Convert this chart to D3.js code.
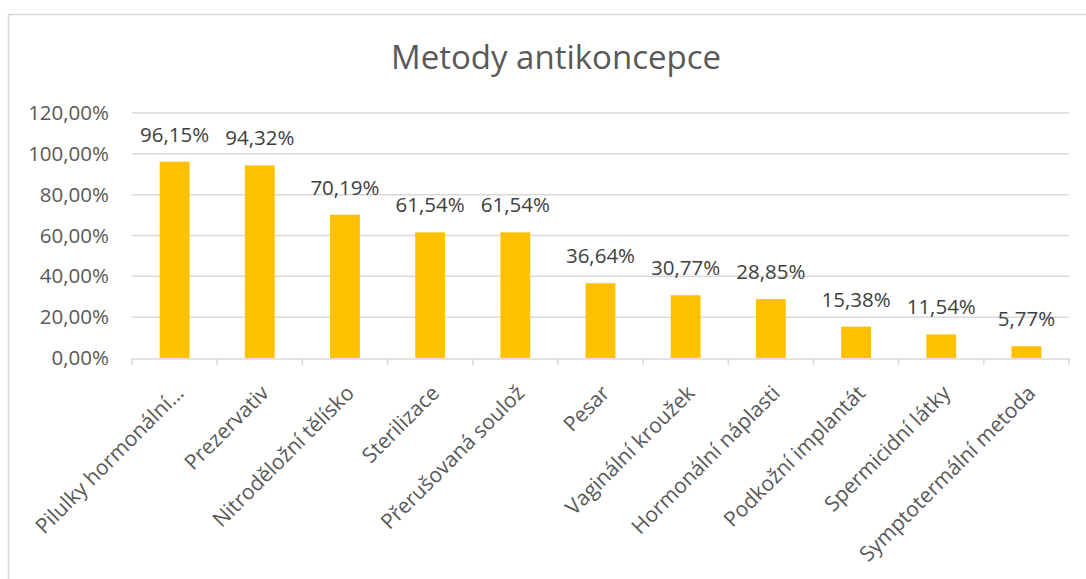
<!DOCTYPE html>
<html>
<head>
<meta charset="utf-8">
<script src="https://cdn.jsdelivr.net/npm/d3@7"></script>
<style>
  body { margin: 0; background: #fff; }
  svg { display: block; font-family: "Open Sans", sans-serif; }
</style>
</head>
<body>
<div id="chart"></div>
<script>
// Data
const categories = [
  "Pilulky hormonální…", "Prezervativ", "Nitroděložní tělísko", "Sterilizace",
  "Přerušovaná soulož", "Pesar", "Vaginální kroužek", "Hormonální náplasti",
  "Podkožní implantát", "Spermicidní látky", "Symptotermální metoda"
];
const values = [96.15, 94.32, 70.19, 61.54, 61.54, 36.64, 30.77, 28.85, 15.38, 11.54, 5.77];
const yTicks = [0, 20, 40, 60, 80, 100, 120];
const chartTitle = "Metody antikoncepce";

// Layout
const W = 1086, H = 579;
const plot = { left: 132, right: 1069, top: 113, bottom: 358 };
const BAR_COLOR = "#FFC000";
const GRID = "#d9d9d9";
const TEXT = "#595959";

const fmt = v => v.toFixed(2).replace(".", ",") + "%";

const svg = d3.select("#chart").append("svg")
  .attr("width", W)
  .attr("height", H);

// chart area border (runs off the right/bottom edge)
svg.append("rect")
  .attr("x", 8.5).attr("y", 14.5)
  .attr("width", W + 20).attr("height", H + 20)
  .attr("fill", "#fff")
  .attr("stroke", GRID)
  .attr("stroke-width", 1.5);

const x = d3.scaleBand()
  .domain(categories)
  .range([plot.left, plot.right])
  .padding(0);

const y = d3.scaleLinear()
  .domain([0, 120])
  .range([plot.bottom, plot.top]);

// title
svg.append("text")
  .attr("x", 556).attr("y", 69)
  .attr("text-anchor", "middle")
  .attr("font-size", "33px")
  .attr("fill", TEXT)
  .text(chartTitle);

// gridlines
svg.append("g")
  .selectAll("line")
  .data(yTicks.filter(t => t > 0))
  .join("line")
  .attr("x1", plot.left).attr("x2", plot.right)
  .attr("y1", d => y(d)).attr("y2", d => y(d))
  .attr("stroke", GRID)
  .attr("stroke-width", 1.5);

// y axis labels
const yAxis = svg.append("g")
  .attr("transform", `translate(${plot.left - 23},0)`)
  .call(d3.axisLeft(y).tickValues(yTicks).tickSize(0).tickPadding(0).tickFormat(fmt));
yAxis.select(".domain").remove();
yAxis.selectAll("text")
  .attr("font-family", "Open Sans")
  .attr("font-size", "20.5px")
  .attr("fill", TEXT);

// bars
const barW = x.step() * 0.35;
svg.append("g")
  .selectAll("rect")
  .data(values)
  .join("rect")
  .attr("x", (d, i) => x(categories[i]) + (x.bandwidth() - barW) / 2)
  .attr("y", d => y(d))
  .attr("width", barW)
  .attr("height", d => y(0) - y(d))
  .attr("fill", BAR_COLOR);

// data labels
svg.append("g")
  .selectAll("text")
  .data(values)
  .join("text")
  .attr("x", (d, i) => x(categories[i]) + x.bandwidth() / 2)
  .attr("y", d => y(d) - 20)
  .attr("text-anchor", "middle")
  .attr("font-size", "20.5px")
  .attr("fill", "#404040")
  .text(fmt);

// x axis
const xAxis = svg.append("g")
  .attr("transform", `translate(0,${plot.bottom + 0.5})`)
  .call(d3.axisBottom(x).tickSize(0).tickFormat(""));
xAxis.select(".domain").attr("stroke", GRID).attr("stroke-width", 1.5);

// boundary ticks
svg.append("g")
  .selectAll("line")
  .data(d3.range(categories.length + 1))
  .join("line")
  .attr("x1", i => plot.left + i * x.step())
  .attr("x2", i => plot.left + i * x.step())
  .attr("y1", plot.bottom)
  .attr("y2", plot.bottom + 7)
  .attr("stroke", GRID)
  .attr("stroke-width", 1.5);

// rotated category labels
svg.append("g")
  .selectAll("text")
  .data(categories)
  .join("text")
  .attr("transform", d => `translate(${x(d) + x.bandwidth() / 2},${plot.bottom + 26}) rotate(-45)`)
  .attr("text-anchor", "end")
  .attr("dy", "0.7em")
  .attr("font-size", "21px")
  .attr("fill", TEXT)
  .text(d => d);
</script>
</body>
</html>
